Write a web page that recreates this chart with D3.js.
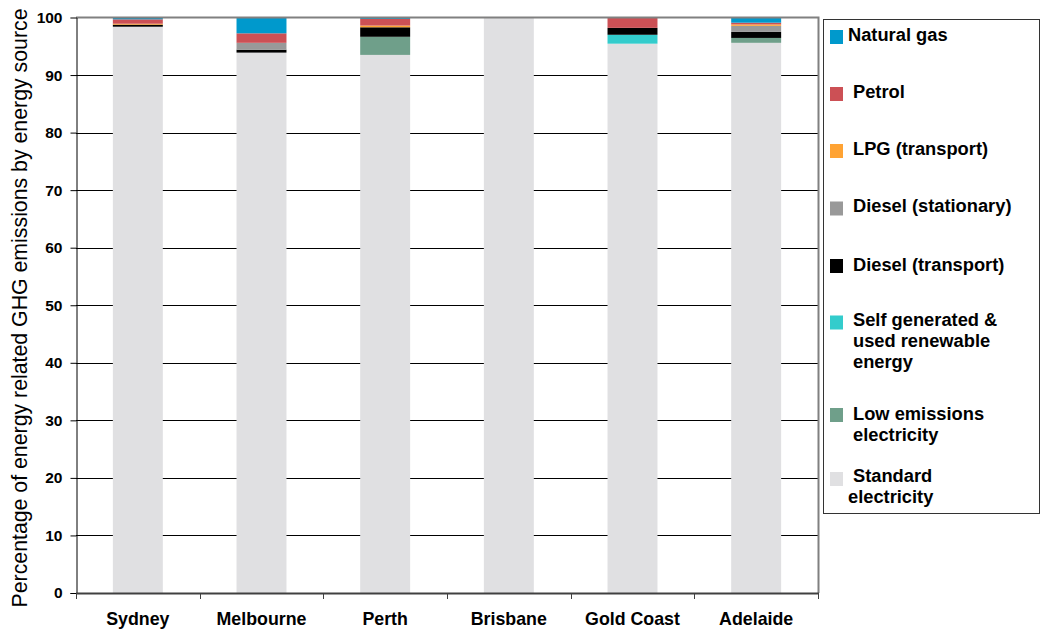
<!DOCTYPE html>
<html>
<head>
<meta charset="utf-8">
<script src="https://cdn.jsdelivr.net/npm/d3@7"></script>
<style>
  html, body { margin: 0; padding: 0; background: #fff; }
  svg { display: block; font-family: "Liberation Sans", Arial, sans-serif; }
</style>
</head>
<body>
<svg id="chart" width="1041" height="629"></svg>
<script>
// Cities and their share of energy-related GHG emissions by energy source (%)
const cities = ["Sydney", "Melbourne", "Perth", "Brisbane", "Gold Coast", "Adelaide"];

const standardElectricity = [98.4, 93.9, 93.5, 100, 95.45, 95.6];
const lowEmissionsElectricity = [0, 0, 3.15, 0, 0, 0.85];
const selfGeneratedRenewable = [0, 0, 0, 0, 1.55, 0];
const dieselTransport = [0.35, 0.5, 1.65, 0, 1.2, 1.05];
const dieselStationary = [0, 1.2, 0, 0, 0, 1.05];
const lpgTransport = [0.17, 0, 0.3, 0, 0, 0.25];
const petrol = [0.76, 1.65, 1.15, 0, 1.8, 0.3];
const naturalGas = [0.32, 2.75, 0.3, 0, 0, 0.9];

const yTicks = [0, 10, 20, 30, 40, 50, 60, 70, 80, 90, 100];

// Stack order, bottom to top
const series = [
  { key: "standard", name: ["Standard", "electricity"], values: standardElectricity, color: "#e0e0e2" },
  { key: "low", name: ["Low emissions", "electricity"], values: lowEmissionsElectricity, color: "#6f9f8a" },
  { key: "self", name: ["Self generated &", "used renewable", "energy"], values: selfGeneratedRenewable, color: "#33cccc" },
  { key: "dieselT", name: ["Diesel (transport)"], values: dieselTransport, color: "#000000" },
  { key: "dieselS", name: ["Diesel (stationary)"], values: dieselStationary, color: "#999999" },
  { key: "lpg", name: ["LPG (transport)"], values: lpgTransport, color: "#ffa333" },
  { key: "petrol", name: ["Petrol"], values: petrol, color: "#cc5055" },
  { key: "gas", name: ["Natural gas"], values: naturalGas, color: "#0099cc" }
];

const rows = cities.map((c, i) => {
  const r = { city: c };
  series.forEach(s => { r[s.key] = s.values[i]; });
  return r;
});

const svg = d3.select("#chart");
const plot = { left: 76, right: 818, top: 17.5, bottom: 593 };

const x = d3.scaleBand().domain(cities).range([plot.left, plot.right]).padding(0);
const y = d3.scaleLinear().domain([0, 100]).range([plot.bottom, plot.top]);
const barW = x.bandwidth() * 0.404;

const stack = d3.stack().keys(series.map(s => s.key));
const stacked = stack(rows);

// Horizontal gridlines
svg.append("g")
  .selectAll("line")
  .data(yTicks.filter(t => t > 0 && t < 100))
  .join("line")
  .attr("x1", plot.left).attr("x2", plot.right)
  .attr("y1", d => Math.round(y(d)) + 0.5).attr("y2", d => Math.round(y(d)) + 0.5)
  .attr("stroke", "#000").attr("stroke-width", 1);

// Stacked bars
const layers = svg.append("g")
  .selectAll("g")
  .data(stacked)
  .join("g")
  .attr("fill", (d, i) => series[i].color);

layers.selectAll("rect")
  .data(d => d)
  .join("rect")
  .attr("x", d => x(d.data.city) + (x.bandwidth() - barW) / 2)
  .attr("width", barW)
  .attr("y", d => y(d[1]))
  .attr("height", d => y(d[0]) - y(d[1]));

// Plot frame: grey top and right edges
svg.append("path")
  .attr("d", `M${plot.left},${plot.top}H${plot.right + 0.5}V${plot.bottom}`)
  .attr("fill", "none").attr("stroke", "#808080").attr("stroke-width", 2);

// Y axis
const yAxis = svg.append("g")
  .attr("transform", `translate(${plot.left + 0.5},0)`)
  .call(d3.axisLeft(y).tickValues(yTicks).tickSize(6).tickPadding(8).tickFormat(d3.format("d")));
yAxis.select(".domain").attr("stroke", "#000");
yAxis.selectAll(".tick line").attr("stroke", d => d === 100 ? "#808080" : "#000");
yAxis.selectAll("text")
  .attr("font-size", 15.5).attr("font-weight", "bold").attr("fill", "#000")
  .attr("font-family", "'Liberation Sans', Arial, sans-serif");

// X axis with ticks on band boundaries
const xAxisG = svg.append("g");
xAxisG.append("line")
  .attr("x1", plot.left).attr("x2", plot.right + 1)
  .attr("y1", plot.bottom + 0.5).attr("y2", plot.bottom + 0.5)
  .attr("stroke", "#404040").attr("stroke-width", 2);
const boundaries = cities.map(c => x(c)).concat([plot.right]);
xAxisG.selectAll("line.tick")
  .data(boundaries)
  .join("line")
  .attr("class", "tick")
  .attr("x1", d => Math.round(d) + 0.5).attr("x2", d => Math.round(d) + 0.5)
  .attr("y1", plot.bottom).attr("y2", plot.bottom + 6)
  .attr("stroke", "#404040");
xAxisG.selectAll("text")
  .data(cities)
  .join("text")
  .attr("x", d => x(d) + x.bandwidth() / 2)
  .attr("y", 625)
  .attr("text-anchor", "middle")
  .attr("font-size", 17.8).attr("font-weight", "bold")
  .text(d => d);

// Y axis title
svg.append("text")
  .attr("transform", `translate(27,308) rotate(-90)`)
  .attr("text-anchor", "middle")
  .attr("font-size", 21.3)
  .text("Percentage of energy related GHG emissions by energy source");

// Legend
const legend = svg.append("g");
legend.append("rect")
  .attr("x", 823.5).attr("y", 19.5).attr("width", 216).attr("height", 494)
  .attr("fill", "#fff").attr("stroke", "#333").attr("stroke-width", 1);

const legendItems = [
  { s: "gas", top: 30, lines: [[848, 41]] },
  { s: "petrol", top: 87, lines: [[853, 98]] },
  { s: "lpg", top: 144, lines: [[853, 155]] },
  { s: "dieselS", top: 201.5, lines: [[853, 212]] },
  { s: "dieselT", top: 259, lines: [[853, 271]] },
  { s: "self", top: 315.5, lines: [[853, 326], [853, 347], [853, 368]] },
  { s: "low", top: 408, lines: [[853, 420], [853, 441]] },
  { s: "standard", top: 472, lines: [[853, 482], [848, 503]] }
];
legendItems.forEach(item => {
  const s = series.find(d => d.key === item.s);
  legend.append("rect")
    .attr("x", 830).attr("y", item.top).attr("width", 13).attr("height", 14)
    .attr("fill", s.color);
  item.lines.forEach((pos, i) => {
    legend.append("text")
      .attr("x", pos[0]).attr("y", pos[1])
      .attr("font-size", 18.3).attr("font-weight", "bold")
      .text(s.name[i]);
  });
});
</script>
</body>
</html>
